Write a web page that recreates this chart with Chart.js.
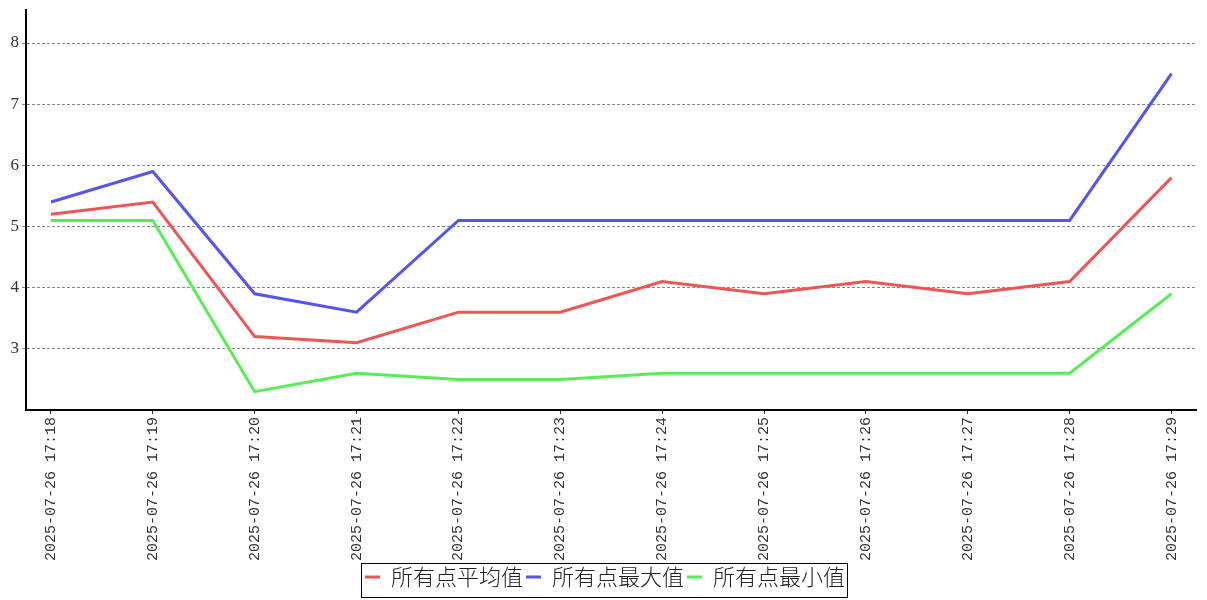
<!DOCTYPE html>
<html><head><meta charset="utf-8">
<script src="https://cdn.jsdelivr.net/npm/chart.js@4/dist/chart.umd.min.js"></script>
<style>html,body{margin:0;padding:0;background:#fff}#w{width:1207px;height:600px}</style>
</head><body><div id="w"><canvas id="c"></canvas></div>
<script>
const categories = ["2025-07-26 17:18","2025-07-26 17:19","2025-07-26 17:20","2025-07-26 17:21","2025-07-26 17:22","2025-07-26 17:23","2025-07-26 17:24","2025-07-26 17:25","2025-07-26 17:26","2025-07-26 17:27","2025-07-26 17:28","2025-07-26 17:29"];
const avgValues = [5.2,5.4,3.2,3.1,3.6,3.6,4.1,3.9,4.1,3.9,4.1,5.8];
const maxValues = [5.4,5.9,3.9,3.6,5.1,5.1,5.1,5.1,5.1,5.1,5.1,7.5];
const minValues = [5.1,5.1,2.3,2.6,2.5,2.5,2.6,2.6,2.6,2.6,2.6,3.9];
const seriesNames = ["所有点平均值","所有点最大值","所有点最小值"];
const yTickValues = [3,4,5,6,7,8];

const toPts = arr => arr.map((v,i)=>({x:i,y:v}));
const colors = ["#ee5555","#5555ee","#55ee55"];

const legendBorder = {
  id:'legendBorder',
  afterLayout(chart){
    const lg = chart.legend;
    if(lg){ lg.left += 7; lg.right += 7; }
  },
  afterDraw(chart){
    const lg = chart.legend;
    if(!lg || !lg.legendHitBoxes || !lg.legendHitBoxes.length) return;
    const hb = lg.legendHitBoxes;
    let l = Math.min(...hb.map(h=>h.left)), r = Math.max(...hb.map(h=>h.left+h.width));
    const ctx = chart.ctx;
    ctx.save();
    ctx.strokeStyle='#000'; ctx.lineWidth=1;
    ctx.strokeRect(Math.round(l)-3.5, Math.round(lg.top)+0.5, Math.round(r-l)+6, Math.round(lg.height)-1);
    ctx.restore();
  }
};

new Chart(document.getElementById('c'), {
  type:'line',
  data:{datasets:[
    {label:seriesNames[0], data:toPts(avgValues), borderColor:colors[0], backgroundColor:colors[0]},
    {label:seriesNames[1], data:toPts(maxValues), borderColor:colors[1], backgroundColor:colors[1]},
    {label:seriesNames[2], data:toPts(minValues), borderColor:colors[2], backgroundColor:colors[2]}
  ]},
  options:{
    responsive:true, maintainAspectRatio:false, animation:false,
    layout:{padding:{top:10,right:11,left:0,bottom:2}},
    elements:{line:{borderWidth:3,tension:0}, point:{radius:0}},
    plugins:{
      tooltip:{enabled:false},
      legend:{position:'bottom', labels:{
        font:{family:"'Noto Sans CJK SC'", size:22, weight:'300'}, color:'#222',
        boxWidth:15, boxHeight:3, padding:3,
        generateLabels(chart){
          const items = Chart.defaults.plugins.legend.labels.generateLabels(chart);
          items.forEach(it=>{ it.lineWidth = 0; it.strokeStyle = it.fillStyle; });
          return items;
        }
      }}
    },
    scales:{
      x:{type:'linear', min:-0.245, max:11.24,
        afterBuildTicks(s){ s.ticks = categories.map((c,i)=>({value:i})); },
        afterFit(s){ s.height = 153; },
        ticks:{autoSkip:false, maxRotation:90, minRotation:90, callback:(v)=>categories[v],
          font:{family:"'Liberation Mono'", size:15}, color:'#333', padding:3},
        grid:{drawOnChartArea:false, drawTicks:true, tickLength:4, tickColor:'#333'},
        border:{color:'#000', width:2}
      },
      y:{min:2, max:8.54,
        afterBuildTicks(s){ s.ticks = yTickValues.map(v=>({value:v})); },
        afterFit(s){ s.width = 26; s.paddingTop = 0; s.paddingBottom = 0; },
        ticks:{font:{family:"'Liberation Serif'", size:17}, color:'#333', padding:3},
        grid:{color:'#888', tickBorderDash:[], tickColor:'#888', tickLength:4, lineWidth:1},
        border:{color:'#000', width:2, dash:[3,2]}
      }
    }
  },
  plugins:[legendBorder]
});
</script></body></html>
